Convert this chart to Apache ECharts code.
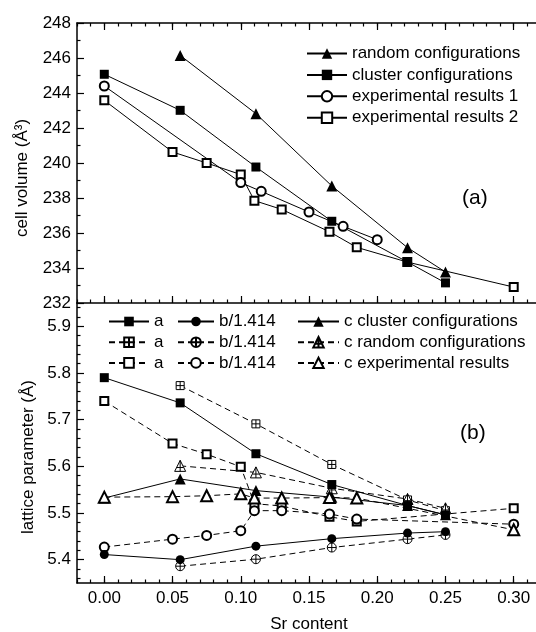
<!DOCTYPE html>
<html><head><meta charset="utf-8">
<script src="https://cdn.jsdelivr.net/npm/echarts@6/dist/echarts.min.js"></script>
<style>html,body{margin:0;padding:0;background:#fff}#c{width:536px;height:632px}</style>
</head><body><div id="c"></div>
<script>
// ---- panel (a): cell volume ----
const xRandom = [0.0556, 0.1111, 0.1667, 0.2222, 0.25];
const xCluster = [0, 0.0556, 0.1111, 0.1667, 0.2222, 0.25];
const xExp1 = [0, 0.10, 0.115, 0.15, 0.175, 0.20];
const xExp2 = [0, 0.05, 0.075, 0.10, 0.11, 0.13, 0.165, 0.185, 0.222, 0.30];
const volRandom = [246.15, 242.82, 238.69, 235.16, 233.77];
const volCluster = [245.07, 243.01, 239.77, 236.67, 234.34, 233.15];
const volExp1 = [244.4, 238.88, 238.38, 237.2, 236.38, 235.62];
const volExp2 = [243.58, 240.63, 240.0, 239.34, 237.85, 237.35, 236.07, 235.18, 234.34, 232.91];

// ---- panel (b): lattice parameters ----
const xLatExp = [0, 0.05, 0.075, 0.10, 0.11, 0.13, 0.165, 0.185, 0.30];
const aCluster = [5.790, 5.736, 5.627, 5.561, 5.516, 5.496];
const bCluster = [5.411, 5.400, 5.429, 5.445, 5.457, 5.460];
const cCluster = [5.532, 5.573, 5.548, 5.534, 5.516, 5.496];
const aRandom = [5.773, 5.691, 5.604, 5.528, 5.505];
const bRandom = [5.386, 5.401, 5.426, 5.444, 5.453];
const cRandom = [5.601, 5.587, 5.553, 5.530, 5.510];
const aExp = [5.740, 5.649, 5.626, 5.599, 5.520, 5.515, 5.492, 5.482, 5.510];
const bExp = [5.427, 5.444, 5.452, 5.462, 5.505, 5.505, 5.498, 5.487, 5.476];
const cExp = [5.534, 5.535, 5.537, 5.541, 5.532, 5.532, 5.533, 5.532, 5.464];

// ---- ticks / labels ----
const xTickLabels = [0, 0.05, 0.10, 0.15, 0.20, 0.25, 0.30];
const latTickLabels = [5.4, 5.5, 5.6, 5.7, 5.8, 5.9];
const latMinorTicks = [5.36, 5.38, 5.42, 5.44, 5.46, 5.48, 5.52, 5.54, 5.56, 5.58, 5.62, 5.64, 5.66, 5.68, 5.72, 5.74, 5.76, 5.78, 5.82, 5.84, 5.86, 5.88, 5.92, 5.94];

const FONT = '"Liberation Sans", Arial, Helvetica, sans-serif';
const BLACK = '#000';
const DASH = [6, 4];
const legendNames = {
  aC: 'a', bC: 'b/1.414', cC: 'c cluster configurations',
  aR: 'a', bR: 'b/1.414', cR: 'c random configurations',
  aE: 'a', bE: 'b/1.414', cE: 'c experimental results'
};
const SQ_PLUS = 'path://M0,0 L10,0 L10,10 L0,10 Z M5,0 L5,10 M0,5 L10,5';
const CI_PLUS = 'path://M10,5 A5,5 0 1,1 0,5 A5,5 0 1,1 10,5 Z M5,0 L5,10 M0,5 L10,5';
const TR_PLUS = 'path://M5,0 L10,10 L0,10 Z M5,0 L5,10 M2,6.5 L8,6.5';

function pts(xs, ys) { return xs.map((x, i) => [x, ys[i]]); }

function mk(name, xi, yi, xs, ys, symbol, size, dashed, kind, z) {
  let itemStyle;
  if (kind === 'filled') itemStyle = { color: BLACK };
  else if (kind === 'empty') itemStyle = { color: BLACK, borderColor: BLACK, borderWidth: 1.2 };
  else itemStyle = { color: '#fff', borderColor: BLACK, borderWidth: 1 };
  return {
    name, type: 'line', xAxisIndex: xi, yAxisIndex: yi, z: z || 2,
    data: pts(xs, ys), symbol, symbolSize: size, showAllSymbol: true,
    lineStyle: { color: BLACK, width: 1, type: dashed ? DASH : 'solid' },
    itemStyle, emphasis: { disabled: true }, animation: false
  };
}

const lineOn = () => ({ show: true, onZero: false, lineStyle: { color: BLACK, width: 1.5 } });
const lineOff = () => ({ show: false, onZero: false });
const labelStyle = { color: BLACK, fontSize: 17, fontFamily: FONT };
const majorTick = (extra) => Object.assign({ show: true, inside: true, length: 7, lineStyle: { color: BLACK, width: 1.2 } }, extra || {});
const minorTickA = (extra) => Object.assign({ show: true, inside: true, length: 3.5, lineStyle: { color: BLACK, width: 1.2 } }, extra || {});

const G0 = { left: 77, top: 23, width: 464, height: 280, outerBoundsMode: 'none', containLabel: false };
const G1 = { left: 77, top: 303, width: 464, height: 280, outerBoundsMode: 'none', containLabel: false };

const option = {
  backgroundColor: '#fff',
  animation: false,
  grid: [G0, G1],
  xAxis: [
    { type: 'value', gridIndex: 0, min: -0.02, max: 0.32, position: 'bottom',
      axisLine: lineOn(), splitLine: { show: false }, axisLabel: { show: false },
      axisTick: majorTick({ customValues: xTickLabels }) },
    { type: 'value', gridIndex: 0, min: -0.02, max: 0.32, interval: 0.01, position: 'bottom',
      axisLine: lineOff(), splitLine: { show: false }, axisLabel: { show: false },
      axisTick: minorTickA() },
    { type: 'value', gridIndex: 0, min: -0.02, max: 0.32, position: 'top',
      axisLine: lineOn(), splitLine: { show: false }, axisLabel: { show: false },
      axisTick: majorTick({ customValues: xTickLabels }) },
    { type: 'value', gridIndex: 0, min: -0.02, max: 0.32, interval: 0.01, position: 'top',
      axisLine: lineOff(), splitLine: { show: false }, axisLabel: { show: false },
      axisTick: minorTickA() },
    { type: 'value', gridIndex: 1, min: -0.02, max: 0.32, position: 'bottom',
      name: 'Sr content', nameLocation: 'middle', nameGap: 33,
      nameTextStyle: { color: BLACK, fontSize: 17, fontFamily: FONT },
      axisLine: lineOn(), splitLine: { show: false },
      axisLabel: Object.assign({ show: true, margin: 7, customValues: xTickLabels, formatter: v => Number(v).toFixed(2) }, labelStyle),
      axisTick: majorTick({ customValues: xTickLabels }) },
    { type: 'value', gridIndex: 1, min: -0.02, max: 0.32, interval: 0.01, position: 'bottom',
      axisLine: lineOff(), splitLine: { show: false }, axisLabel: { show: false },
      axisTick: minorTickA() }
  ],
  yAxis: [
    { type: 'value', gridIndex: 0, min: 232, max: 248, interval: 2, position: 'left',
      name: 'cell volume (Å³)', nameLocation: 'middle', nameGap: 46, nameRotate: 90,
      nameTextStyle: { color: BLACK, fontSize: 17, fontFamily: FONT, padding: [0, 30, 0, 0] },
      axisLine: lineOn(), splitLine: { show: false },
      axisLabel: Object.assign({ show: true, margin: 6 }, labelStyle),
      axisTick: majorTick(),
      minorTick: { show: true, splitNumber: 2, length: 3.5, lineStyle: { color: BLACK, width: 1.2 } } },
    { type: 'value', gridIndex: 1, min: 5.35, max: 5.95, position: 'left',
      name: 'lattice parameter (Å)', nameLocation: 'middle', nameGap: 34, nameRotate: 90,
      nameTextStyle: { color: BLACK, fontSize: 17, fontFamily: FONT, padding: [0, 28, 0, 0] },
      axisLine: lineOn(), splitLine: { show: false },
      axisLabel: Object.assign({ show: true, margin: 6, customValues: latTickLabels, formatter: v => Number(v).toFixed(1) }, labelStyle),
      axisTick: majorTick({ customValues: latTickLabels }) },
    { type: 'value', gridIndex: 1, min: 5.35, max: 5.95, position: 'left',
      axisLine: lineOff(), splitLine: { show: false }, axisLabel: { show: false },
      axisTick: minorTickA({ customValues: latMinorTicks }) }
  ],
  legend: [
    { orient: 'vertical', left: 301, top: 40, itemWidth: 40, itemHeight: 13, itemGap: 4.4,
      selectedMode: false,
      textStyle: { color: BLACK, fontSize: 17, lineHeight: 17, fontFamily: FONT },
      data: ['random configurations', 'cluster configurations', 'experimental results 1', 'experimental results 2'] },
    { orient: 'vertical', left: 103, top: 308, itemWidth: 40, itemHeight: 12, itemGap: 3.7,
      selectedMode: false, formatter: n => legendNames[n],
      textStyle: { color: BLACK, fontSize: 17, lineHeight: 17, fontFamily: FONT },
      data: ['aC', 'aR', 'aE'] },
    { orient: 'vertical', left: 172, top: 308, itemWidth: 36, itemHeight: 12, itemGap: 3.7,
      selectedMode: false, formatter: n => legendNames[n],
      textStyle: { color: BLACK, fontSize: 17, lineHeight: 17, fontFamily: FONT },
      data: ['bC', 'bR', 'bE'] },
    { orient: 'vertical', left: 292, top: 308, itemWidth: 41, itemHeight: 13, itemGap: 3.7,
      selectedMode: false, formatter: n => legendNames[n],
      textStyle: { color: BLACK, fontSize: 17, lineHeight: 17, fontFamily: FONT },
      data: ['cC', 'cR', 'cE'] }
  ],
  graphic: [
    { type: 'text', left: 462, top: 188, style: { text: '(a)', fontSize: 21, fontFamily: FONT, fill: BLACK } },
    { type: 'text', left: 460, top: 423, style: { text: '(b)', fontSize: 21, fontFamily: FONT, fill: BLACK } }
  ],
  series: [
    mk('experimental results 2', 0, 0, xExp2, volExp2, 'emptyRect', 8, false, 'empty'),
    mk('experimental results 1', 0, 0, xExp1, volExp1, 'emptyCircle', 9, false, 'empty'),
    mk('cluster configurations', 0, 0, xCluster, volCluster, 'rect', 9, false, 'filled'),
    mk('random configurations', 0, 0, xRandom, volRandom, 'triangle', 11, false, 'filled'),

    mk('aE', 4, 1, xLatExp, aExp, 'emptyRect', 8, true, 'empty'),
    mk('bE', 4, 1, xLatExp, bExp, 'emptyCircle', 9, true, 'empty'),
    mk('aR', 4, 1, xRandom, aRandom, SQ_PLUS, 8, true, 'plus'),
    mk('bR', 4, 1, xRandom, bRandom, CI_PLUS, 9, true, 'plus'),
    mk('cR', 4, 1, xRandom, cRandom, TR_PLUS, 11, true, 'plus'),
    mk('aC', 4, 1, xCluster, aCluster, 'rect', 9, false, 'filled'),
    mk('bC', 4, 1, xCluster, bCluster, 'circle', 9, false, 'filled'),
    mk('cC', 4, 1, xCluster, cCluster, 'triangle', 11, false, 'filled'),
    mk('cE', 4, 1, xLatExp, cExp, 'emptyTriangle', 11, true, 'empty', 3)
  ]
};

const chart = echarts.init(document.getElementById('c'), null, { renderer: 'canvas' });
chart.setOption(option);
</script>
</body></html>
